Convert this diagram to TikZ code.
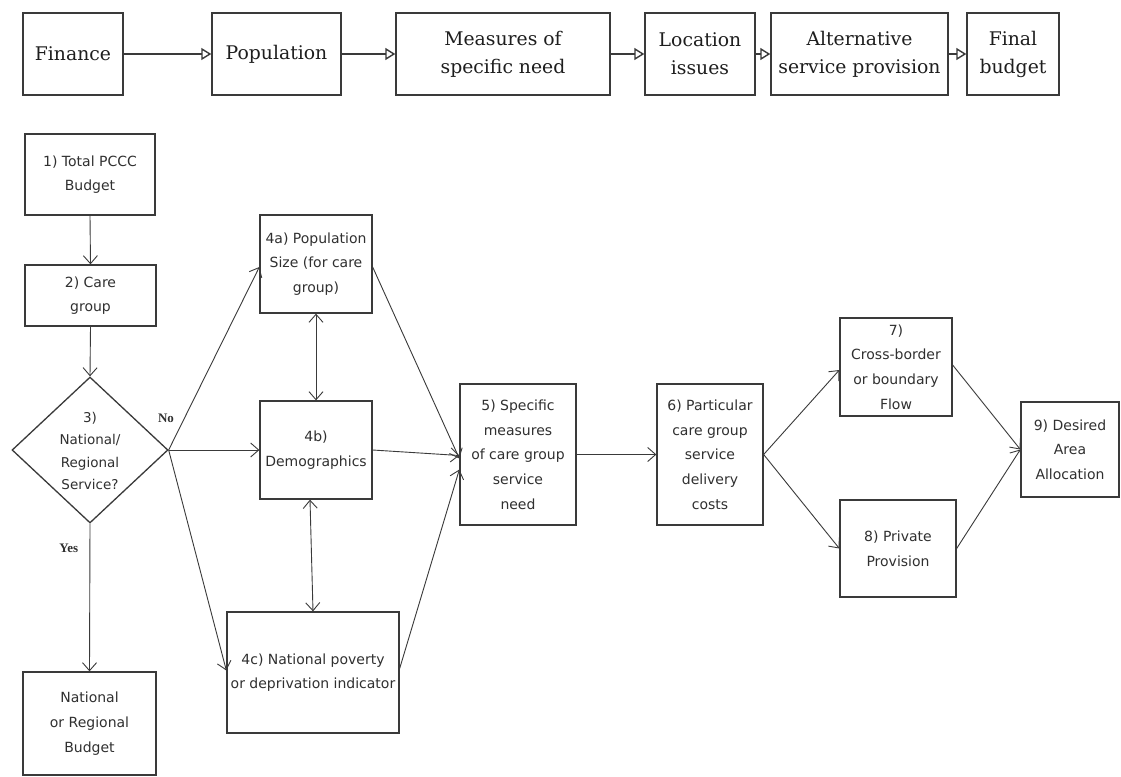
\documentclass[tikz,border=0pt]{standalone}
\usepackage{fontspec}
\setmainfont{DejaVu Sans}
\newfontfamily\topfont{DejaVu Serif}
\newfontfamily\lblfont{Liberation Serif}
\usetikzlibrary{arrows.meta,shapes.geometric,calc}
\definecolor{ink}{HTML}{3A3A3A}
\definecolor{txt}{HTML}{303030}
\definecolor{toptxt}{HTML}{1E1E1E}
\tikzset{
  topbox/.style={draw=ink, line width=1.4pt, inner sep=0pt, minimum height=82pt, align=center,
    font=\topfont\fontsize{18.8}{28}\selectfont, text=toptxt},
  flowbox/.style={draw=ink, line width=1.3pt, inner sep=0pt, align=center,
    font=\fontsize{14}{24.7}\selectfont, text=txt},
  toparrow/.style={draw=ink, line width=1.4pt, -{Triangle[open,length=10pt,width=12pt,line width=1.4pt]}},
  flowarrow/.style={draw=ink, line width=0.9pt, -{Straight Barb[length=8pt,width=14pt,line width=0.9pt]}},
  biarrow/.style={draw=ink, line width=0.9pt, {Straight Barb[length=8pt,width=14pt,line width=0.9pt]}-{Straight Barb[length=8pt,width=14pt,line width=0.9pt]}},
  lbl/.style={font=\lblfont\bfseries\fontsize{13}{15}\selectfont, text=txt}
}
\begin{document}
\begin{tikzpicture}[x=1pt,y=-1pt]
\useasboundingbox (0,0) rectangle (1121,776);
\fill[white] (0,0) rectangle (1121,776);
% top row
\node[topbox, minimum width=100pt] (f1) at (73,54) {Finance};
\node[topbox, minimum width=129pt] (f2) at (276.5,54) {Population};
\node[topbox, minimum width=214pt] (f3) at (503,54) {Measures of\\specific need};
\node[topbox, minimum width=110pt] (f4) at (700,54) {Location\\issues};
\node[topbox, minimum width=177pt] (f5) at (859.5,54) {Alternative\\service provision};
\node[topbox, minimum width=92pt] (f6) at (1013,54) {Final\\budget};
\draw[toparrow] (f1) -- (f2);
\draw[toparrow] (f2) -- (f3);
\draw[toparrow] (f3) -- (f4);
\draw[toparrow] (f4) -- (f5);
\draw[toparrow] (f5) -- (f6);
% flow chart
\node[flowbox, minimum width=130pt, minimum height=81pt] (b1) at (90,174.5) {1) Total PCCC\\Budget};
\node[flowbox, minimum width=131pt, minimum height=61pt] (b2) at (90.5,295.5) {2) Care\\group};
\node[diamond, draw=ink, line width=1.3pt, inner sep=0pt, minimum width=156pt, minimum height=146pt, aspect=1.07] (d3) at (90,450) {};
\node[align=center, font=\fontsize{13.5}{22.5}\selectfont, text=txt] (d3t) at (90,451) {3)\\National/\\Regional\\Service?};
\node[flowbox, minimum width=112pt, minimum height=98pt] (b4a) at (316,264) {4a) Population\\Size (for care\\group)};
\node[flowbox, minimum width=112pt, minimum height=98pt] (b4b) at (316,450) {4b)\\Demographics};
\node[flowbox, minimum width=172pt, minimum height=121pt] (b4c) at (313,672.5) {4c) National poverty\\or deprivation indicator};
\node[flowbox, minimum width=133pt, minimum height=103pt] (bnr) at (89.5,723.5) {National\\or Regional\\Budget};
\node[flowbox, minimum width=116pt, minimum height=141pt] (b5) at (518,454.5) {5) Specific\\measures\\of care group\\service\\need};
\node[flowbox, minimum width=106pt, minimum height=141pt] (b6) at (710,454.5) {6) Particular\\care group\\service\\delivery\\costs};
\node[flowbox, minimum width=112pt, minimum height=98pt] (b7) at (896,367) {7)\\Cross-border\\or boundary\\Flow};
\node[flowbox, minimum width=116pt, minimum height=97pt] (b8) at (898,548.5) {8) Private\\Provision};
\node[flowbox, minimum width=98pt, minimum height=95pt] (b9) at (1070,449.5) {9) Desired\\Area\\Allocation};
% connectors
\draw[flowarrow] (b1.south) -- (b2.north);
\draw[flowarrow] (b2.south) -- (d3.north);
\draw[flowarrow] (d3.south) -- node[lbl, pos=0.17, left=8pt] (yes) {Yes} (bnr.north);
\draw[flowarrow] (d3.east) -- ([yshift=-3pt]b4a.west);
\draw[flowarrow] (d3.east) -- (b4b.west);
\draw[flowarrow] (d3.east) -- ([yshift=2pt]b4c.west);
\node[lbl] (no) at (166,418) {No};
\draw[biarrow] (b4a.south) -- (b4b.north);
\draw[biarrow] ([xshift=-6pt]b4b.south) -- (b4c.north);
\draw[flowarrow] ([yshift=-3pt]b4a.east) -- ([yshift=-4pt]b5.west);
\draw[flowarrow] (b4b.east) -- ([yshift=-1pt]b5.west);
\draw[flowarrow] ([yshift=4pt]b4c.east) -- ([yshift=-15pt]b5.west);
\draw[flowarrow] (b5.east) -- (b6.west);
\draw[flowarrow] (b6.east) -- ([yshift=-3pt]b7.west);
\draw[flowarrow] (b6.east) -- (b8.west);
\draw[flowarrow] ([yshift=2pt]b7.east) -- (b9.west);
\draw[flowarrow] (b8.east) -- (b9.west);
\end{tikzpicture}
\end{document}
